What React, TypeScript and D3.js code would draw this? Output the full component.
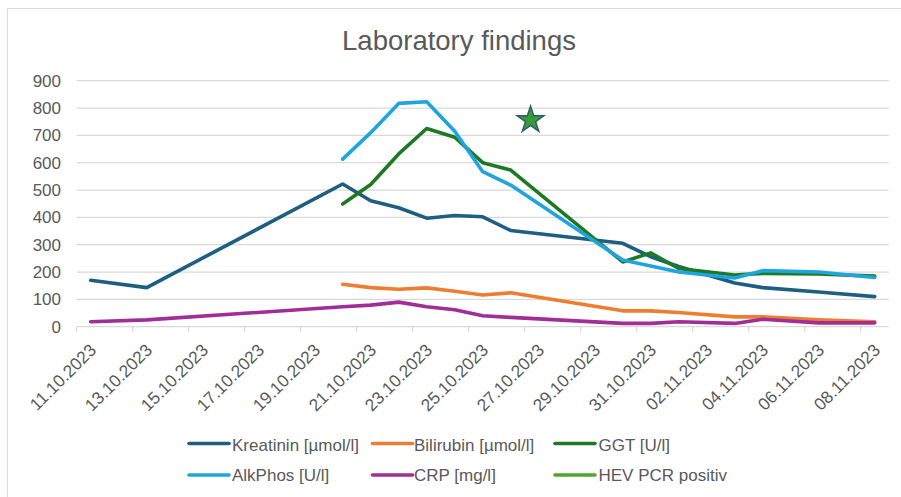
import React from "react";
import * as d3 from "d3";

// ---------- data ----------
const tickLabels = [
  "11.10.2023", "13.10.2023", "15.10.2023", "17.10.2023", "19.10.2023",
  "21.10.2023", "23.10.2023", "25.10.2023", "27.10.2023", "29.10.2023",
  "31.10.2023", "02.11.2023", "04.11.2023", "06.11.2023", "08.11.2023",
];
const yTicks = [0, 100, 200, 300, 400, 500, 600, 700, 800, 900];

const earlyDates = ["11.10.2023", "13.10.2023"];
const labDates = [
  "20.10.2023", "21.10.2023", "22.10.2023", "23.10.2023", "24.10.2023",
  "25.10.2023", "26.10.2023", "30.10.2023", "31.10.2023", "01.11.2023",
  "03.11.2023", "04.11.2023", "06.11.2023", "08.11.2023",
];
const kreatininDates = [...earlyDates, ...labDates];
const kreatininValues = [170, 143, 522, 461, 435, 397, 407, 402, 352, 305, 256, 220, 160, 143, 127, 110];
const bilirubinValues = [155, 143, 137, 142, 130, 116, 124, 58, 58, 52, 36, 36, 25, 18];
const ggtValues = [449, 520, 632, 725, 693, 600, 573, 237, 270, 213, 189, 195, 193, 185];
const alkPhosValues = [613, 710, 817, 823, 715, 567, 518, 244, 222, 200, 178, 205, 200, 180];
const crpDates = [...earlyDates, ...labDates];
const crpValues = [18, 25, 73, 79, 90, 73, 62, 40, 34, 12, 12, 18, 12, 27, 14, 14];
const hevTimes = ["27.10.2023 05:00"];
const hevValues = [756];

const seriesNames = ["Kreatinin [µmol/l]", "Bilirubin [µmol/l]", "GGT [U/l]", "AlkPhos [U/l]", "CRP [mg/l]", "HEV PCR positiv"];
const seriesColors = ["#1f5e83", "#ee7d31", "#1d7a22", "#1ea5df", "#a12d97", "#4ea72e"];

// ---------- layout ----------
const W = 901, H = 497;
const plotLeft = 76.7, dayW = 28, nDays = 29;
const plotRight = plotLeft + nDays * dayW;
const yBottom = 326.7, yTop = 80.7;
const font = "'Liberation Sans', Arial, sans-serif";
const textColor = "#595959";

const parseDay = d3.utcParse("%d.%m.%Y");
const parseTime = d3.utcParse("%d.%m.%Y %H:%M");
const noon = (s: string) => d3.utcHour.offset(parseDay(s) as Date, 12);

const x = d3.scaleUtc()
  .domain([parseDay("11.10.2023") as Date, d3.utcDay.offset(parseDay("11.10.2023") as Date, nDays)])
  .range([plotLeft, plotRight]);
const y = d3.scaleLinear().domain([0, 900]).range([yBottom, yTop]);

type Pt = { date: Date; value: number };
const zip = (dates: string[], vals: number[]): Pt[] => dates.map((d, i) => ({ date: noon(d), value: vals[i] }));

const lineData: Pt[][] = [
  zip(kreatininDates, kreatininValues),
  zip(labDates, bilirubinValues),
  zip(labDates, ggtValues),
  zip(labDates, alkPhosValues),
  zip(crpDates, crpValues),
];
const hevPts: Pt[] = hevTimes.map((t, i) => ({ date: parseTime(t) as Date, value: hevValues[i] }));

const line = d3.line<Pt>().x((d) => x(d.date)).y((d) => y(d.value));
const star = d3.symbol().type(d3.symbolStar).size(220)() as string;

const legendPos = [
  { lx: 189, ly: 443.5, tx: 232, ty: 450.5 },
  { lx: 372.5, ly: 443.5, tx: 414, ty: 450.5 },
  { lx: 555, ly: 443.5, tx: 598.5, ty: 450.5 },
  { lx: 189, ly: 475, tx: 232, ty: 481 },
  { lx: 372.5, ly: 475, tx: 414, ty: 481 },
  { lx: 555, ly: 475, tx: 598.5, ty: 481 },
];

export default function App() {
  return (
    <svg width={W} height={H} style={{ position: "absolute", left: 0, top: 0, background: "#fff" }} fontFamily={font}>
      <rect x={0} y={0} width={W} height={H} fill="#fff" />
      <line x1={7.5} y1={8.5} x2={W} y2={8.5} stroke="#d9d9d9" strokeWidth={1} />
      <line x1={7.5} y1={8.5} x2={7.5} y2={H} stroke="#d9d9d9" strokeWidth={1} />

      <text x={459} y={50} textAnchor="middle" fontSize={27.5} fill={textColor}>Laboratory findings</text>

      {yTicks.map((t) => (
        <g key={t}>
          <line x1={plotLeft} x2={plotRight} y1={y(t)} y2={y(t)} stroke="#d9d9d9" strokeWidth={1.2} />
          <text x={61} y={y(t)} dy="0.36em" textAnchor="end" fontSize={17} fill={textColor}>{t}</text>
        </g>
      ))}

      {tickLabels.map((l) => {
        const d = parseDay(l) as Date;
        const tx = x(d);
        const cx = x(noon(l));
        return (
          <g key={l}>
            <line x1={tx} x2={tx} y1={yBottom} y2={yBottom + 5} stroke="#d9d9d9" strokeWidth={1.2} />
            <text transform={`translate(${cx + 6.5},${yBottom + 24.5}) rotate(-45)`} textAnchor="end" fontSize={17.3} fill={textColor}>{l}</text>
          </g>
        );
      })}

      {lineData.map((pts, i) => (
        <path key={i} d={line(pts) as string} fill="none" stroke={seriesColors[i]} strokeWidth={3.6} strokeLinejoin="round" strokeLinecap="round" />
      ))}

      {hevPts.map((p, i) => (
        <path key={i} d={star} transform={`translate(${x(p.date)},${y(p.value)})`} fill="#3a9a35" stroke="#2d5c72" strokeWidth={1.5} />
      ))}

      {seriesNames.map((n, i) => {
        const p = legendPos[i];
        return (
          <g key={n}>
            <line x1={p.lx} x2={p.lx + 40} y1={p.ly} y2={p.ly} stroke={seriesColors[i]} strokeWidth={3.6} strokeLinecap="round" />
            <text x={p.tx} y={p.ty} fontSize={17} fill={textColor}>{n}</text>
          </g>
        );
      })}
    </svg>
  );
}
